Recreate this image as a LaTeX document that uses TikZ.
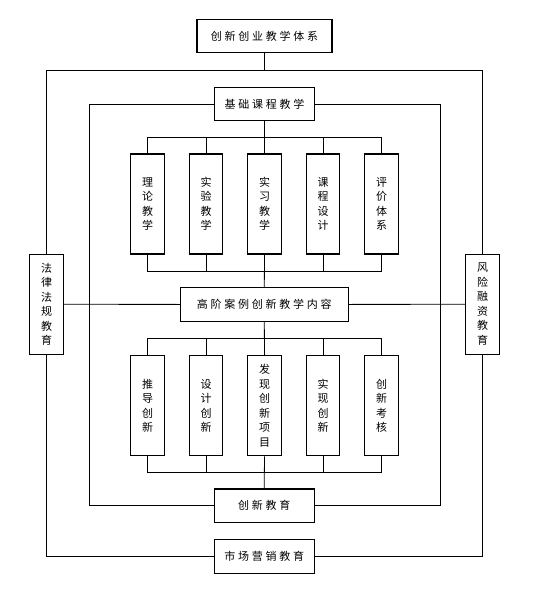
\documentclass[tikz,border=0pt]{standalone}
\usepackage{fontspec}
\newfontfamily\cjk[LetterSpace=25]{Noto Sans CJK SC}
\newfontfamily\cjkv{Noto Sans CJK SC}
\begin{document}
\begin{tikzpicture}[x=1pt,y=-1pt,
  box/.style={draw, line width=1.1pt, inner sep=0pt},
  hbox/.style={box, minimum width=#1, minimum height=33.5pt, font=\cjk\fontsize{11}{14}\selectfont},
  vbox/.style={box, minimum width=33.5pt, minimum height=100pt, align=center, font=\cjkv\fontsize{11}{14.5}\selectfont},
  ln/.style={line width=0.8pt}]
\useasboundingbox (0,0) rectangle (537,591);
% main boxes
\node[hbox=135pt]   (top)    at (264.5,36)    {创新创业教学体系};
\node[hbox=100pt]   (base)   at (264.5,104)   {基础课程教学};
\node[hbox=167.5pt] (high)   at (264.3,304.4) {高阶案例创新教学内容};
\node[hbox=100pt]   (inno)   at (264.2,505.7) {创新教育};
\node[hbox=100pt]   (market) at (264.2,556.3) {市场营销教育};
\node[vbox] (law)  at (46.6,304.3)  {法\\律\\法\\规\\教\\育};
\node[vbox] (risk) at (482.5,304.3) {风\\险\\融\\资\\教\\育};
% upper columns
\node[vbox] (u1) at (147.5,204) {理\\论\\教\\学};
\node[vbox] (u2) at (206,204)   {实\\验\\教\\学};
\node[vbox] (u3) at (264.5,204) {实\\习\\教\\学};
\node[vbox] (u4) at (323,204)   {课\\程\\设\\计};
\node[vbox] (u5) at (381.5,204) {评\\价\\体\\系};
% lower columns
\node[vbox] (l1) at (147.5,405.7) {推\\导\\创\\新};
\node[vbox] (l2) at (206,405.7)   {设\\计\\创\\新};
\node[vbox] (l3) at (264.5,405.7) {发\\现\\创\\新\\项\\目};
\node[vbox] (l4) at (323,405.7)   {实\\现\\创\\新};
\node[vbox] (l5) at (381.5,405.7) {创\\新\\考\\核};
% helper coordinates
\coordinate (oT) at (264.5,70);
\coordinate (iL) at (89,300);
\coordinate (iR) at (440.3,300);
\coordinate (bA) at (264.5,137);
\coordinate (bB) at (264.5,271);
\coordinate (bC) at (264.5,338.3);
\coordinate (bD) at (264.5,472.7);
% outer loop
\draw[ln] (top.south) -- (oT);
\draw[ln] (law.north) |- (risk.north |- oT) -- (risk.north);
\draw[ln] (law.south) |- (market.west);
\draw[ln] (risk.south) |- (market.east);
% inner loop
\draw[ln] (base.west) -- (base.west -| iL) |- (inno.west);
\draw[ln] (base.east) -- (base.east -| iR) |- (inno.east);
% middle horizontal
\draw[ln] (law.east) -- (high.west);
\draw[ln] (high.east) -- (risk.west);
% upper buses
\draw[ln] (u1.north) -- (u1.north |- bA) -- (u5.north |- bA) -- (u5.north);
\draw[ln] (u1.south) -- (u1.south |- bB) -- (u5.south |- bB) -- (u5.south);
\foreach \i in {2,4} {
  \draw[ln] (u\i.north) -- (u\i.north |- bA);
  \draw[ln] (u\i.south) -- (u\i.south |- bB);
}
\draw[ln] (base.south) -- (u3.north);
\draw[ln] (u3.south) -- (high.north);
% lower buses
\draw[ln] (l1.north) -- (l1.north |- bC) -- (l5.north |- bC) -- (l5.north);
\draw[ln] (l1.south) -- (l1.south |- bD) -- (l5.south |- bD) -- (l5.south);
\foreach \i in {2,4} {
  \draw[ln] (l\i.north) -- (l\i.north |- bC);
  \draw[ln] (l\i.south) -- (l\i.south |- bD);
}
\draw[ln] (high.south) -- (l3.north);
\draw[ln] (l3.south) -- (inno.north);
\end{tikzpicture}
\end{document}
